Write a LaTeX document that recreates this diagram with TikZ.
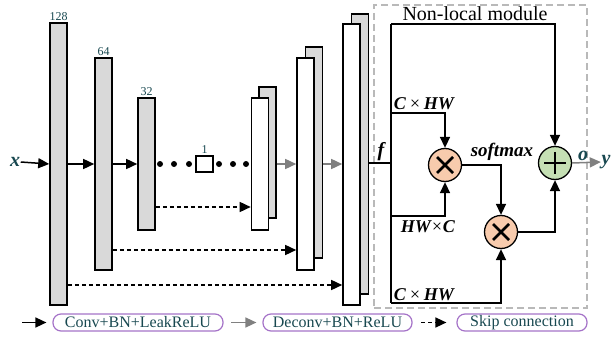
\documentclass[tikz,border=0pt]{standalone}
\usepackage{fontspec}
\setmainfont{Liberation Serif}
\usetikzlibrary{arrows.meta}
\definecolor{barGray}{RGB}{217,217,217}
\definecolor{mulFill}{RGB}{248,203,173}
\definecolor{addFill}{RGB}{197,224,180}
\definecolor{tealText}{RGB}{24,72,80}
\definecolor{legPurple}{RGB}{165,115,200}
\tikzset{
	tip/.style={-{Triangle[length=11pt,width=10pt]}},
	bar/.style={draw,line width=1.6pt,minimum width=17pt,inner sep=0pt},
	op/.style={circle,draw,line width=1.3pt,minimum size=33pt,inner sep=0pt},
	mul/.style={op,fill=mulFill,path picture={
		\draw[line width=2.6pt] ([shift={(-8,-8)}]path picture bounding box.center) -- ([shift={(8,8)}]path picture bounding box.center)
			([shift={(-8,8)}]path picture bounding box.center) -- ([shift={(8,-8)}]path picture bounding box.center);}},
	add/.style={op,fill=addFill,path picture={
		\draw[line width=2.6pt] ([shift={(-11,0)}]path picture bounding box.center) -- ([shift={(11,0)}]path picture bounding box.center)
			([shift={(0,-11)}]path picture bounding box.center) -- ([shift={(0,11)}]path picture bounding box.center);}},
	legbox/.style={draw=legPurple,line width=1.2pt,rounded corners=8pt,minimum height=17pt,inner sep=0pt,text=tealText,font=\fontsize{16}{16}\selectfont},
	dim/.style={text=tealText,font=\fontsize{12}{12}\selectfont,inner sep=1pt,above},
	sym/.style={font=\fontsize{20}{20}\selectfont\bfseries\itshape,inner sep=0pt},
	dimlabel/.style={font=\fontsize{18}{18}\selectfont\bfseries\itshape,inner sep=0pt,anchor=base west},
	skip/.style={tip,dash pattern=on 4pt off 3pt}
}
\begin{document}
\begin{tikzpicture}[x=1pt,y=-1pt,line width=1.5pt]
	\useasboundingbox (0,0) rectangle (612,339);
	% encoder
	\node[bar,fill=barGray,minimum height=282pt] (e1) at (58.5,164) {};
	\node[bar,fill=barGray,minimum height=212pt] (e2) at (103.5,164) {};
	\node[bar,fill=barGray,minimum height=132pt] (e3) at (146.5,164) {};
	\node[bar,fill=white,minimum height=16pt] (lat) at (204.5,164) {};
	\node[dim] at (e1.north) {128};
	\node[dim] at (e2.north) {64};
	\node[dim] at (e3.north) {32};
	\node[dim] at (lat.north) {1};
	\foreach \d in {160,174,189,219,233,246}
		\fill (\d,164) circle (3pt);
	% decoder
	\node[bar,fill=barGray,minimum height=131pt] (d1b) at (267.5,152.5) {};
	\node[bar,fill=white,minimum height=132pt] (d1) at (260,164) {};
	\node[bar,fill=barGray,minimum height=211pt] (d2b) at (314,152.5) {};
	\node[bar,fill=white,minimum height=212pt] (d2) at (305.5,164) {};
	\node[bar,fill=barGray,minimum height=280pt] (d3b) at (360,154) {};
	\node[bar,fill=white,minimum height=281pt] (d3) at (351.5,164.5) {};
	\node[sym,text=tealText] (x) at (15,162) {x};
	\draw[tip] (x.east) -- (e1.west);
	\draw[tip] (e1) -- (e2);
	\draw[tip] (e2) -- (e3);
	\draw[tip,gray] (d1b.east |- d1) -- (d2.west);
	\draw[tip,gray] (d2b.east |- d2) -- (d3.west |- d2);
	\draw[skip] (e3.east |- 0,207) -- (d1.west |- 0,207);
	\draw[skip] (e2.east |- 0,250) -- (d2.west |- 0,250);
	\draw[skip] (e1.east |- 0,285) -- (d3.west |- 0,285);
	% non-local module
	\node[draw=gray!55,dash pattern=on 7pt off 4pt,line width=1.2pt,minimum width=213pt,minimum height=303pt] (nl) at (480.5,156.5) {};
	\node[font=\fontsize{20}{20}\selectfont,anchor=base] at (475,21) {Non-local module};
	\coordinate (f) at (391,163);
	\coordinate (nlTop) at (391,24);
	\coordinate (kq) at (391,113);
	\coordinate (vq) at (391,216);
	\coordinate (nlBot) at (391,303);
	\node[mul] (m1) at (445,165) {};
	\node[mul] (m2) at (501,232) {};
	\node[add] (sum) at (555,163) {};
	\node[sym,text=tealText] (y) at (606,162) {y};
	\draw (d3b.east |- f) -- (f);
	\draw (nlTop) -- (nlBot);
	\draw[tip] (nlTop) -| (sum.north);
	\draw[tip] (kq) -| (m1.north);
	\draw[tip] (vq) -| (m1.south);
	\draw[tip] (nlBot) -| (m2.south);
	\draw[tip] (m1.east) -| (m2.north);
	\draw[tip] (m2.east) -| (sum.south);
	\draw[tip,gray] (sum.east) -- (y.west);
	\node[sym] at (381,152) {f};
	\node[sym,text=tealText] at (583,156) {o};
	\node[dimlabel] at (393,110) {C\,{\mdseries×}\,HW};
	\node[dimlabel] at (400,232) {HW{\mdseries×}C};
	\node[dimlabel] at (393,300) {C\,{\mdseries×}\,HW};
	\node[dimlabel,font=\fontsize{19}{19}\selectfont\bfseries\itshape] at (470,157) {softmax};
	% legend
	\node[legbox,minimum width=170pt] (lconv) at (138,322.5) {Conv+BN+LeakReLU};
	\node[legbox,minimum width=149pt] (ldeconv) at (337.5,322.5) {Deconv+BN+ReLU};
	\node[legbox,minimum width=130pt] (lskip) at (522,322.5) {Skip connection};
	\draw[tip] ([xshift=-30pt]lconv.west) -- ([xshift=-6pt]lconv.west);
	\draw[tip,gray] ([xshift=-31pt]ldeconv.west) -- ([xshift=-6pt]ldeconv.west);
	\draw[skip] ([xshift=-35pt]lskip.west) -- ([xshift=-10pt]lskip.west);
\end{tikzpicture}
\end{document}
